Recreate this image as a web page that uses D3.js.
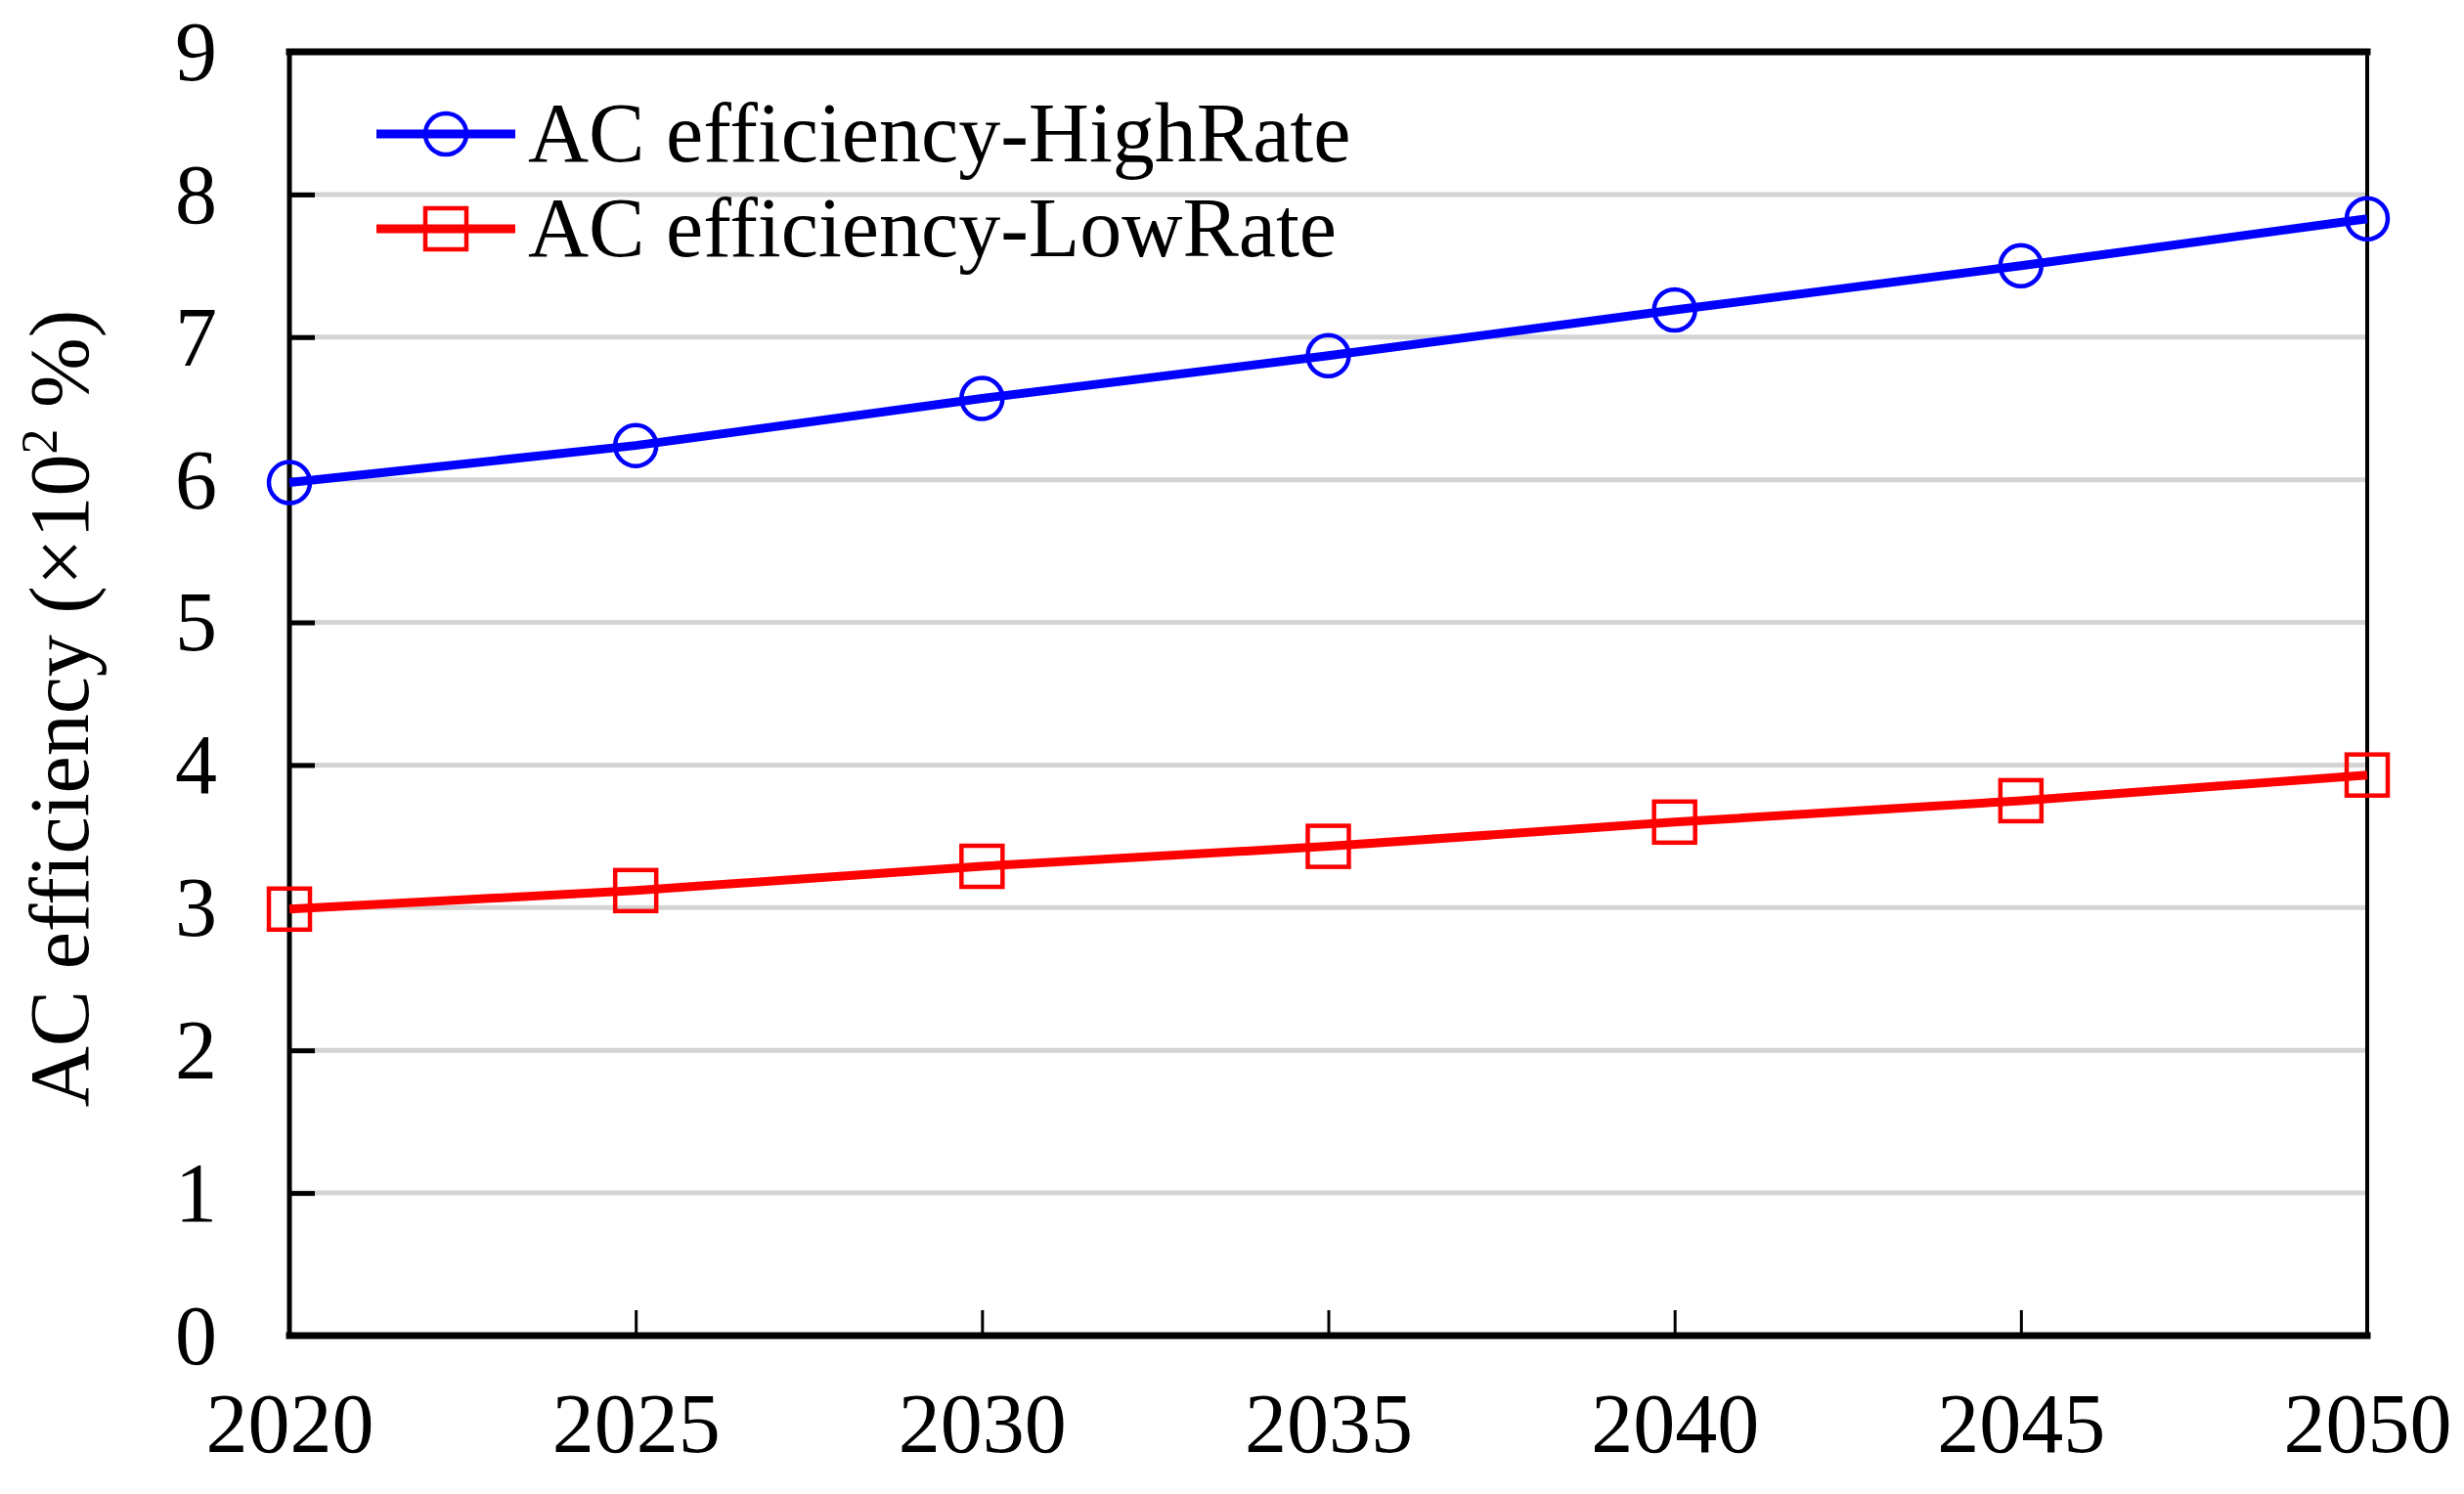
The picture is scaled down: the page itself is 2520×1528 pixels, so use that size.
<!DOCTYPE html>
<html>
<head>
  <title>AC efficiency</title>
  <style>
    html, body { margin: 0; padding: 0; background: #fff; }
    svg { display: block; }
    text { font-family: "Liberation Serif", "Times New Roman", serif; fill: #000; }
  </style>
</head>
<body>
  <div id="chart"></div>

  <script src="https://d3js.org/d3.v7.min.js"></script>
  <script>
    // dados
    const years = [2020, 2025, 2030, 2035, 2040, 2045, 2050];
    const highRate = [5.98, 6.24, 6.57, 6.87, 7.19, 7.50, 7.83];
    const lowRate = [2.99, 3.12, 3.29, 3.43, 3.60, 3.75, 3.93];
    const yTicks = [0, 1, 2, 3, 4, 5, 6, 7, 8, 9];
    const seriesNames = ["AC efficiency-HighRate", "AC efficiency-LowRate"];

    const width = 2520;
    const height = 1528;
    const margin = { top: 53, right: 99, bottom: 162, left: 296 };
    const innerW = width - margin.left - margin.right;
    const innerH = height - margin.top - margin.bottom;

    const svg = d3.select("#chart")
      .append("svg")
      .attr("width", width)
      .attr("height", height);

    const g = svg.append("g")
      .attr("transform", `translate(${margin.left},${margin.top})`);

    const x = d3.scaleLinear().domain([2020, 2050]).range([0, innerW]);
    const y = d3.scaleLinear().domain([0, 9]).range([innerH, 0]);

    // linhas de grade
    g.selectAll(".grid")
      .data(yTicks.filter(d => d > 0 && d < 9))
      .enter()
      .append("line")
      .attr("x1", 0)
      .attr("x2", innerW)
      .attr("y1", d => y(d))
      .attr("y2", d => y(d))
      .attr("stroke", "#d4d4d4")
      .attr("stroke-width", 5);

    // eixo y
    const yAxis = g.append("g")
      .call(d3.axisLeft(y).tickValues(yTicks).tickSizeInner(-26).tickSizeOuter(0).tickPadding(74));
    yAxis.select(".domain").remove();
    yAxis.selectAll(".tick line").attr("stroke", "#000").attr("stroke-width", 5);
    yAxis.selectAll(".tick text").attr("font-size", 86).attr("font-family", "Liberation Serif").attr("dy", "0.33em");

    // eixo x
    const xAxis = g.append("g")
      .attr("transform", `translate(0,${innerH})`)
      .call(d3.axisBottom(x).tickValues(years).tickFormat(d3.format("d")).tickSizeInner(-26).tickSizeOuter(0).tickPadding(58));
    xAxis.select(".domain").remove();
    xAxis.selectAll(".tick line").attr("stroke", "#000").attr("stroke-width", 3);
    xAxis.selectAll(".tick text").attr("font-size", 86).attr("font-family", "Liberation Serif");

    // moldura
    const frame = [
      { x1: 0, y1: 0, x2: innerW, y2: 0, w: 7 },
      { x1: 0, y1: innerH, x2: innerW, y2: innerH, w: 7 },
      { x1: 0, y1: 0, x2: 0, y2: innerH, w: 5 },
      { x1: innerW, y1: 0, x2: innerW, y2: innerH, w: 4 }
    ];
    g.selectAll(".frame")
      .data(frame)
      .enter()
      .append("line")
      .attr("x1", d => d.x1).attr("y1", d => d.y1)
      .attr("x2", d => d.x2).attr("y2", d => d.y2)
      .attr("stroke", "#000")
      .attr("stroke-width", d => d.w)
      .attr("stroke-linecap", "square");

    // séries
    const series = [
      { name: seriesNames[0], values: highRate, color: "#0000ff", shape: "circle" },
      { name: seriesNames[1], values: lowRate, color: "#ff0000", shape: "square" }
    ];

    const line = d3.line()
      .x((d, i) => x(years[i]))
      .y(d => y(d));

    function marker(sel, shape, color) {
      if (shape === "circle") {
        sel.append("circle").attr("r", 21)
          .attr("fill", "none").attr("stroke", color).attr("stroke-width", 4.5);
      } else {
        sel.append("rect").attr("x", -21).attr("y", -21).attr("width", 42).attr("height", 42)
          .attr("fill", "none").attr("stroke", color).attr("stroke-width", 4.5);
      }
    }

    series.forEach(s => {
      g.append("path")
        .datum(s.values)
        .attr("d", line)
        .attr("fill", "none")
        .attr("stroke", s.color)
        .attr("stroke-width", 9);

      g.selectAll(null)
        .data(s.values)
        .enter()
        .append("g")
        .attr("transform", (d, i) => `translate(${x(years[i])},${y(d)})`)
        .each(function () { marker(d3.select(this), s.shape, s.color); });
    });

    // legenda
    const legend = svg.append("g");
    series.forEach((s, i) => {
      const ly = 137 + i * 97;
      const item = legend.append("g").attr("transform", `translate(0,${ly})`);
      item.append("line")
        .attr("x1", 385).attr("x2", 527)
        .attr("stroke", s.color).attr("stroke-width", 9);
      const m = item.append("g").attr("transform", "translate(456,0)");
      marker(m, s.shape, s.color);
      item.append("text")
        .attr("x", 540)
        .attr("dy", "0.33em")
        .attr("font-size", 86)
        .text(s.name);
    });

    // título do eixo y
    const yLabel = svg.append("text")
      .attr("transform", `translate(90,${margin.top + innerH / 2 + 15}) rotate(-90)`)
      .attr("text-anchor", "middle")
      .attr("font-size", 86);
    yLabel.append("tspan").text("AC efficiency (×10");
    yLabel.append("tspan").attr("font-size", 52).attr("dy", -32).text("2");
    yLabel.append("tspan").attr("dy", 32).text(" %)");
  </script>
</body>
</html>
